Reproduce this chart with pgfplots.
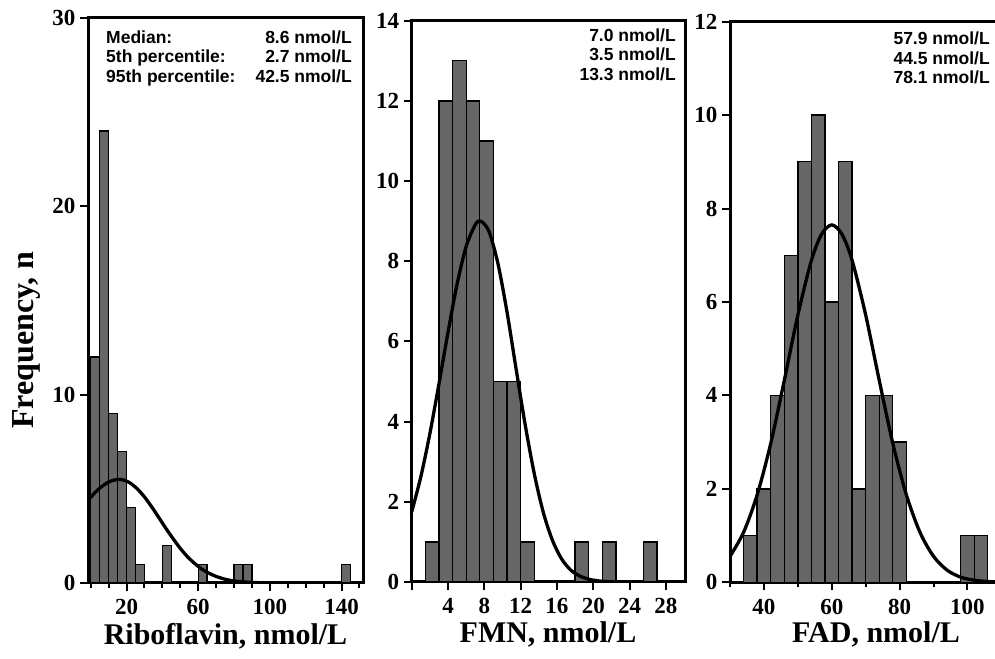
\documentclass[border=0pt]{standalone}
\usepackage{fontspec}
\setmainfont{Liberation Serif}
\newfontfamily\annfont{Liberation Sans}
\usepackage{pgfplots}
\pgfplotsset{compat=1.18}
\definecolor{barfill}{RGB}{102,102,102}

\pgfplotsset{
  hist/.style={
    scale only axis, anchor=south west, ymin=0,
    axis line style={line width=3pt},
    tick pos=left, tick align=outside,
    major tick length=8pt, minor tick length=5pt,
    tick style={black, line width=2pt},
    tick label style={font=\fontsize{23}{23}\selectfont\bfseries},
    xticklabel style={yshift=-5pt},
    yticklabel style={xshift=-1pt},
    /pgf/number format/assume math mode=true,
  },
  bars/.style={ybar interval, fill=barfill, draw=black, line width=1.3pt},
  fit/.style={black, line width=3.3pt, smooth, no marks},
}
\tikzset{ann/.style={inner sep=0pt, font={\annfont\bfseries\fontsize{17.5}{19}\selectfont}},
  lab/.style={inner sep=0pt, font={\bfseries\fontsize{30}{32}\selectfont}}}

\begin{document}
\begin{tikzpicture}
\useasboundingbox (0,0) rectangle (995pt,658pt);

% riboflavin
\begin{axis}[hist, at={(88pt,75pt)}, width=275pt, height=565pt,
  xmin=-1.5, xmax=152, ymax=30,
  ytick={0,10,20,30},
  xtick={20,60,100,140}, minor xtick={0,10,30,40,50,70,80,90,110,120,130,150}]
\addplot[bars] coordinates {(0,12)(5,24)(10,9)(15,7)(20,4)(25,1)(30,0)};
\addplot[bars] coordinates {(40,2)(45,0)};
\addplot[bars] coordinates {(60,1)(65,0)};
\addplot[bars] coordinates {(80,1)(85,1)(90,0)};
\addplot[bars] coordinates {(140,1)(145,0)};
\addplot[fit] coordinates {(-2,4.33)(2,4.76)(6,5.11)(10,5.36)(13,5.46)(16,5.5)(19,5.45)(22,5.31)
  (26,5.0)(30,4.57)(34,4.05)(38,3.48)(42,2.90)(46,2.35)(50,1.84)(54,1.40)(58,1.04)(62,0.74)
  (66,0.52)(70,0.35)(75,0.20)(80,0.11)(85,0.06)(90,0.03)(96,0.01)(100,0)};
\end{axis}

% FMN
\begin{axis}[hist, at={(411.7pt,76pt)}, width=273.3pt, height=561.3pt,
  xmin=0, xmax=30.1, ymax=14,
  ytick={0,2,...,14},
  xtick={0,4,...,28}, xticklabels={,4,8,12,16,20,24,28}]
\addplot[bars] coordinates {(1.5,1)(3,12)(4.5,13)(6,12)(7.5,11)(9,5)(10.5,5)(12,1)(13.5,0)};
\addplot[bars] coordinates {(18,1)(19.5,0)};
\addplot[bars] coordinates {(21,1)(22.5,0)};
\addplot[bars] coordinates {(25.5,1)(27,0)};
\addplot[fit] coordinates {(0,1.75)(1,2.62)(2,3.70)(3,4.94)(4,6.23)(5,7.43)(6,8.37)(7,8.91)
  (7.6,9.0)(8.5,8.75)(9.5,7.94)(10.5,6.73)(11.5,5.31)(12.5,3.92)(13.5,2.70)(14.5,1.73)
  (15.5,1.04)(16.5,0.58)(17.5,0.30)(18.5,0.15)(19.5,0.07)(20.5,0.03)(21.5,0.01)(22.5,0)};
\end{axis}

% FAD
\begin{axis}[hist, at={(730pt,75.7pt)}, width=268pt, height=560.6pt,
  xmin=30, xmax=109, ymax=12,
  ytick={0,2,...,12},
  xtick={40,60,80,100}, minor xtick={30,50,70,90}]
\addplot[bars] coordinates {(34,1)(38,2)(42,4)(46,7)(50,9)(54,10)(58,6)(62,9)(66,2)(70,4)(74,4)(78,3)(82,0)};
\addplot[bars] coordinates {(98,1)(102,1)(106,0)};
\addplot[fit] coordinates {(30,0.555)(34,1.07)(38,1.87)(42,2.97)(46,4.32)(50,5.72)(54,6.89)(57,7.45)
  (60,7.65)(63,7.45)(66,6.89)(70,5.72)(74,4.32)(78,2.97)(82,1.87)(86,1.07)(90,0.555)
  (94,0.26)(98,0.11)(102,0.045)(106,0.016)(109,0.008)};
\end{axis}

% statistics
\node[ann, anchor=base west] at (106pt,614.5pt) {Median:};
\node[ann, anchor=base west] at (106pt,595.2pt) {5th percentile:};
\node[ann, anchor=base west] at (106pt,575.5pt) {95th percentile:};
\node[ann, anchor=base east] at (352pt,614.5pt) {8.6 nmol/L};
\node[ann, anchor=base east] at (352pt,595.2pt) {2.7 nmol/L};
\node[ann, anchor=base east] at (352pt,575.5pt) {42.5 nmol/L};
\node[ann, anchor=base east] at (676pt,616.3pt) {7.0 nmol/L};
\node[ann, anchor=base east] at (676pt,597pt) {3.5 nmol/L};
\node[ann, anchor=base east] at (676pt,577pt) {13.3 nmol/L};
\node[ann, anchor=base east] at (990pt,613pt) {57.9 nmol/L};
\node[ann, anchor=base east] at (990pt,593pt) {44.5 nmol/L};
\node[ann, anchor=base east] at (990pt,574.7pt) {78.1 nmol/L};

% axis titles
\node[lab, anchor=base] at (225.5pt,13pt) {Riboflavin, nmol/L};
\node[lab, anchor=base] at (548pt,15pt) {FMN, nmol/L};
\node[lab, anchor=base] at (876pt,15pt) {FAD, nmol/L};
\node[lab, rotate=90, anchor=center, font={\bfseries\fontsize{32}{34}\selectfont}] at (26pt,318pt) {Frequency, n};
\end{tikzpicture}
\end{document}
